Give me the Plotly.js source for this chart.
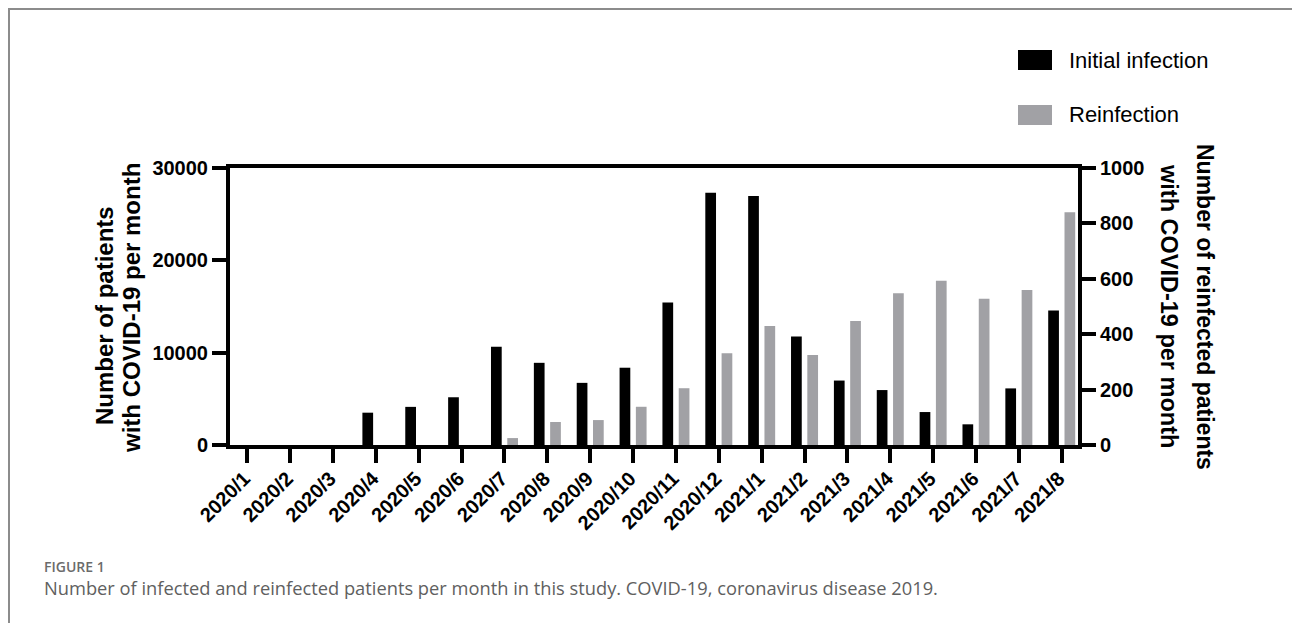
<!DOCTYPE html>
<html>
<head>
<meta charset="utf-8">
<script src="https://cdn.plot.ly/plotly-3.0.1.min.js"></script>
<style>
  html, body { margin: 0; padding: 0; background: #fff; }
  #wrap { position: relative; width: 1292px; height: 623px; overflow: hidden; }
  #chart { position: absolute; left: 0; top: 0; width: 1292px; height: 623px; }
  #frame { position: absolute; left: 8px; top: 8px; width: 1300px; height: 640px;
           border-left: 2px solid #8c8c8c; border-top: 2px solid #8c8c8c; pointer-events: none; }
</style>
</head>
<body>
<div id="wrap">
  <div id="chart"></div>
  <div id="frame"></div>
</div>
<script>
// ---- data ----
const months = ['2020/1','2020/2','2020/3','2020/4','2020/5','2020/6','2020/7','2020/8','2020/9','2020/10',
                '2020/11','2020/12','2021/1','2021/2','2021/3','2021/4','2021/5','2021/6','2021/7','2021/8'];
const initialInfection = [0,0,0,3500,4130,5170,10650,8900,6730,8370,15420,27330,26980,11740,6980,5950,3570,2240,6130,14560];
const reinfection = [0,0,0,0,0,0,25,83,90,138,205,331,430,325,448,548,593,528,560,840];
const seriesNames = ['Initial infection','Reinfection'];
const leftTickVals = [0,10000,20000,30000];
const rightTickVals = [0,200,400,600,800,1000];
const leftTitle = ['Number of patients','with COVID-19 per month'];
const rightTitle = ['Number of reinfected patients','with COVID-19 per month'];
const figLabel = 'FIGURE 1';
const caption = 'Number of infected and reinfected patients per month in this study. COVID-19, coronavirus disease 2019.';

// ---- layout helpers (pixel -> paper) ----
const W = 1292, H = 623;
const M = {l: 230, r: 214, t: 168, b: 178};
const PW = W - M.l - M.r, PH = H - M.t - M.b;
const px = x => (x - M.l) / PW;
const py = y => (H - M.b - y) / PH;

const AX = 'Liberation Sans, Arial, sans-serif';
const BLACK = '#000000', GREY = '#a1a1a5';

const traces = [
  {type: 'bar', name: seriesNames[0], x: months, y: initialInfection, yaxis: 'y',
   marker: {color: BLACK, line: {width: 0}}, width: 0.25, offset: -0.315, showlegend: false},
  {type: 'bar', name: seriesNames[1], x: months, y: reinfection, yaxis: 'y2',
   marker: {color: GREY, line: {width: 0}}, width: 0.25, offset: 0.065, showlegend: false}
];

const axisCommon = {
  showline: true, linecolor: '#000', linewidth: 4,
  ticks: 'outside', ticklen: 14, tickwidth: 4, tickcolor: '#000',
  showgrid: false, zeroline: false, fixedrange: true
};

const ann = [];
const titleFont = s => ({family: AX, size: s, weight: 700, color: '#000'});
ann.push({text: leftTitle[0], x: px(104), y: py(316), textangle: -90, font: titleFont(24)});
ann.push({text: leftTitle[1], x: px(131), y: py(308), textangle: -90, font: titleFont(24)});
ann.push({text: rightTitle[0], x: px(1205), y: py(307), textangle: 90, font: titleFont(23)});
ann.push({text: rightTitle[1], x: px(1169), y: py(306), textangle: 90, font: titleFont(23.5)});
ann.forEach(a => Object.assign(a, {xref: 'paper', yref: 'paper', xanchor: 'center', yanchor: 'middle', showarrow: false}));
// legend texts
const legFont = {family: AX, size: 22, color: '#000'};
ann.push({text: seriesNames[0], x: px(1067), y: py(60), xref: 'paper', yref: 'paper', xanchor: 'left', yanchor: 'middle',
  showarrow: false, font: legFont});
ann.push({text: seriesNames[1], x: px(1067), y: py(115), xref: 'paper', yref: 'paper', xanchor: 'left', yanchor: 'middle',
  showarrow: false, font: legFont});
// caption
ann.push({text: figLabel, x: px(42), y: py(566), xref: 'paper', yref: 'paper', xanchor: 'left', yanchor: 'middle',
  showarrow: false, font: {family: 'Open Sans, sans-serif', size: 14, weight: 600, color: '#6b6b6b'}});
ann.push({text: caption, x: px(42), y: py(587), xref: 'paper', yref: 'paper', xanchor: 'left', yanchor: 'middle',
  showarrow: false, font: {family: 'Open Sans, sans-serif', size: 18.3, color: '#606060'}});

const shapes = [
  {type: 'rect', xref: 'paper', yref: 'paper', x0: px(1018), x1: px(1052), y0: py(70), y1: py(50),
   fillcolor: BLACK, line: {width: 0}},
  {type: 'rect', xref: 'paper', yref: 'paper', x0: px(1018), x1: px(1052), y0: py(125), y1: py(105),
   fillcolor: GREY, line: {width: 0}}
];

const layout = {
  width: W, height: H,
  margin: M,
  paper_bgcolor: '#fff', plot_bgcolor: '#fff',
  showlegend: false,
  barmode: 'overlay',
  font: {family: AX, color: '#000'},
  xaxis: Object.assign({}, axisCommon, {
    type: 'category', range: [-0.404, 19.38], mirror: true,
    tickangle: -45, ticklabelstandoff: -4, ticklabelshift: -3,
    tickfont: {family: AX, size: 20, weight: 700, color: '#000'}
  }),
  yaxis: Object.assign({}, axisCommon, {
    range: [0, 30000], tickvals: leftTickVals, ticktext: leftTickVals.map(String),
    tickfont: {family: AX, size: 20, weight: 700, color: '#000'}
  }),
  yaxis2: Object.assign({}, axisCommon, {
    overlaying: 'y', side: 'right', range: [0, 1000], tickvals: rightTickVals, ticktext: rightTickVals.map(String),
    tickfont: {family: AX, size: 20, weight: 700, color: '#000'}
  }),
  annotations: ann,
  shapes: shapes
};

Plotly.newPlot('chart', traces, layout, {displayModeBar: false, staticPlot: true});
</script>
</body>
</html>
